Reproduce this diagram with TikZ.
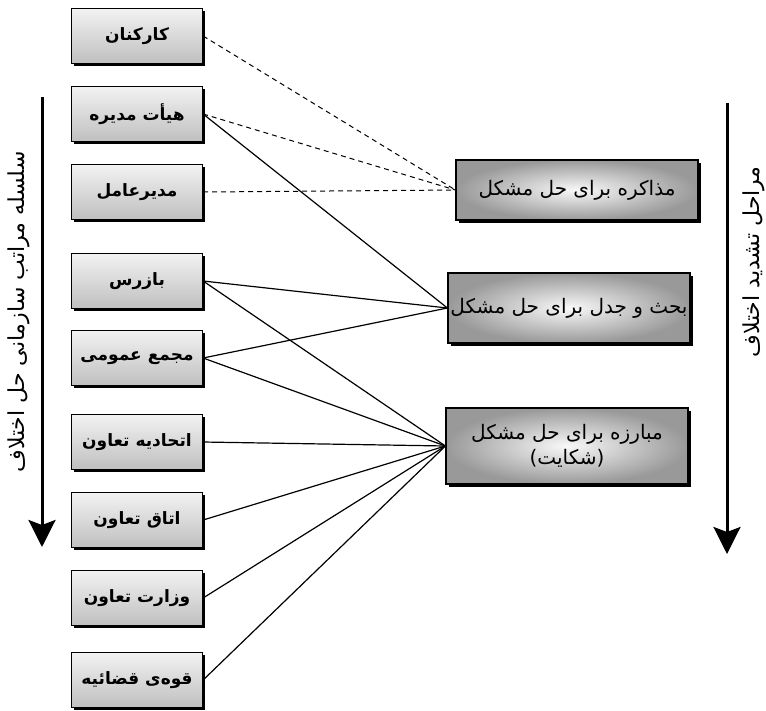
\documentclass[tikz,border=0pt]{standalone}
\usepackage{fontspec}
\TeXXeTstate=1
\newfontfamily\ar[Script=Arabic]{DejaVu Sans}
\usetikzlibrary{arrows.meta,shadows}
\begin{document}
\begin{tikzpicture}[x=1pt,y=-1pt,
  leftbox/.style={draw=black, line width=1.2pt, top color=gray!10, bottom color=gray!50,
    minimum width=131pt, minimum height=55pt, inner sep=2pt,
    drop shadow={shadow xshift=2pt, shadow yshift=-2pt, fill=black, opacity=1},
    font=\ar\bfseries\fontsize{17}{20}\selectfont},
  rightbox/.style={draw=black, line width=1.2pt, inner color=gray!5, outer color=gray!80,
    minimum width=242pt, inner sep=2pt, align=center,
    drop shadow={shadow xshift=3pt, shadow yshift=-3pt, fill=black, opacity=1},
    font=\ar\fontsize{20}{25}\selectfont},
  dashlink/.style={line width=1pt, dash pattern=on 5pt off 4pt},
  solidlink/.style={line width=1.2pt},
  bigarrow/.style={line width=3pt, -{Stealth[length=27pt,width=27pt,inset=5pt]}},
  sidelabel/.style={font=\ar\fontsize{22}{26}\selectfont, rotate=90}
]
\useasboundingbox (0,0) rectangle (766,710);

% left boxes
\node[leftbox] (k1) at (137,36)  {\beginR کارکنان\endR};
\node[leftbox] (k2) at (137,114) {\beginR هیأت مدیره\endR};
\node[leftbox] (k3) at (137,192) {\beginR مدیرعامل\endR};
\node[leftbox] (k4) at (137,281) {\beginR بازرس\endR};
\node[leftbox] (k5) at (137,358) {\beginR مجمع عمومی\endR};
\node[leftbox] (k6) at (137,442) {\beginR اتحادیه تعاون\endR};
\node[leftbox] (k7) at (137,520) {\beginR اتاق تعاون\endR};
\node[leftbox] (k8) at (137,598) {\beginR وزارت تعاون\endR};
\node[leftbox] (k9) at (137,680) {\beginR قوه‌ی قضائیه\endR};

% right boxes
\node[rightbox, minimum height=60pt] (A) at (577,190) {\beginR مذاکره برای حل مشکل\endR};
\node[rightbox, minimum height=70pt] (B) at (569,308) {\beginR بحث و جدل برای حل مشکل\endR};
\node[rightbox, minimum height=76pt] (C) at (567,446) {\beginR مبارزه برای حل مشکل\endR\\\beginR(شکایت)\endR};

% connectors
\draw[dashlink] (k1.east) -- (A.west);
\draw[dashlink] (k2.east) -- (A.west);
\draw[dashlink] (k3.east) -- (A.west);
\draw[solidlink] (k2.east) -- (B.west);
\draw[solidlink] (k4.east) -- (B.west);
\draw[solidlink] (k5.east) -- (B.west);
\draw[solidlink] (k4.east) -- (C.west);
\draw[solidlink] (k5.east) -- (C.west);
\draw[solidlink] (k6.east) -- (C.west);
\draw[solidlink] (k7.east) -- (C.west);
\draw[solidlink] (k8.east) -- (C.west);
\draw[solidlink] (k9.east) -- (C.west);

% side arrows
\coordinate (la1) at (42,97);
\coordinate (la2) at (42,547);
\coordinate (ra1) at (727,103);
\coordinate (ra2) at (727,554);
\draw[bigarrow] (la1) -- (la2);
\draw[bigarrow] (ra1) -- (ra2);
\node[sidelabel] (lt) at (19,312) {\beginR سلسله مراتب سازمانی حل اختلاف\endR};
\node[sidelabel] (rt) at (754,262) {\beginR مراحل تشدید اختلاف\endR};
\end{tikzpicture}
\end{document}
